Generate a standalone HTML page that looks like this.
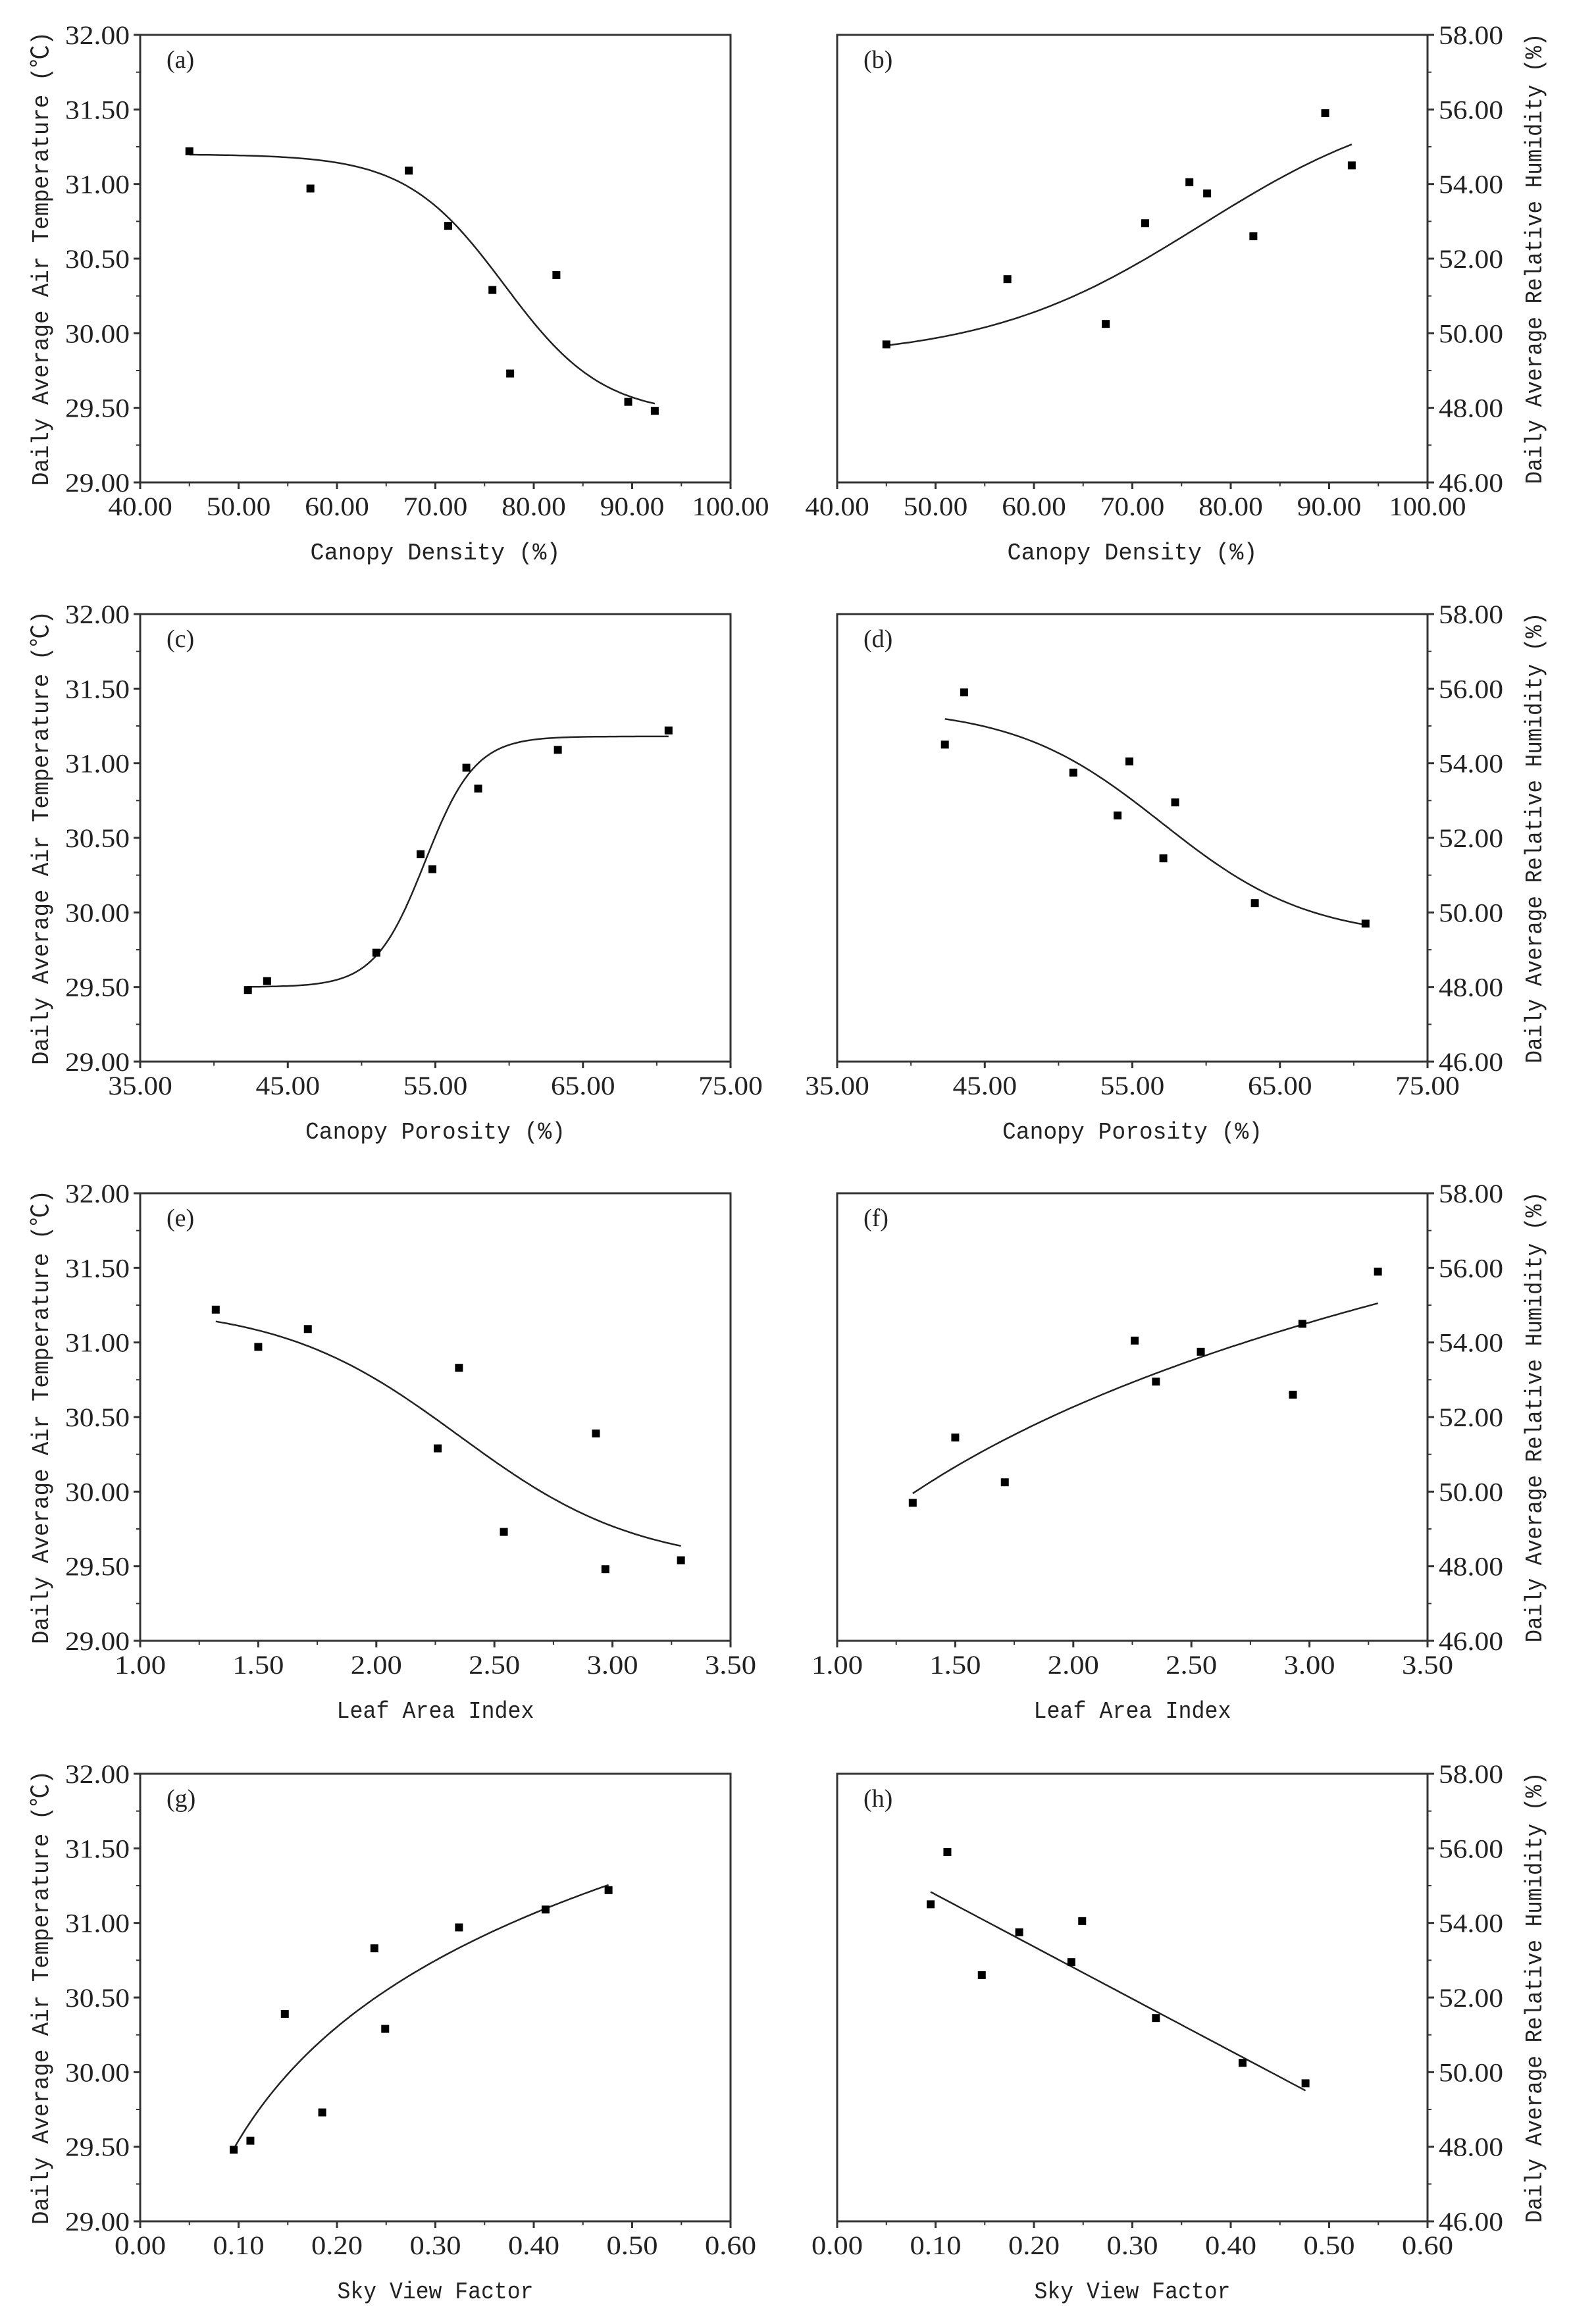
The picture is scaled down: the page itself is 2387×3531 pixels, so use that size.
<!DOCTYPE html>
<html><head><meta charset="utf-8"><style>
html,body{margin:0;padding:0;background:#fff;}
svg{display:block;}
text{fill:#222;}
</style></head>
<body>
<svg id="fig" width="2387" height="3531" viewBox="0 0 2387 3531" xmlns="http://www.w3.org/2000/svg">
<rect width="2387" height="3531" fill="#fff"/>
</svg>
<script>
// ---- data ----
const canopyDensity = [45.0, 57.3, 67.3, 71.3, 75.8, 77.6, 82.3, 89.6, 92.3];
const tempByDensity = [31.22, 30.97, 31.09, 30.72, 30.29, 29.73, 30.39, 29.54, 29.48];
const rhByDensity = [49.7, 51.45, 50.25, 52.95, 54.05, 53.75, 52.6, 55.9, 54.5];
const canopyPorosity = [42.3, 43.6, 51.0, 54.0, 54.8, 57.1, 57.9, 63.3, 70.8];
const tempByPorosity = [29.48, 29.54, 29.73, 30.39, 30.29, 30.97, 30.83, 31.09, 31.22];
const rhByPorosity = [54.5, 55.9, 53.75, 52.6, 54.05, 51.45, 52.95, 50.25, 49.7];
const leafAreaIndex = [1.32, 1.50, 1.71, 2.26, 2.35, 2.54, 2.93, 2.97, 3.29];
const tempByLai = [31.22, 30.97, 31.09, 30.29, 30.83, 29.73, 30.39, 29.48, 29.54];
const rhByLai = [49.7, 51.45, 50.25, 54.05, 52.95, 53.75, 52.6, 54.5, 55.9];
const skyViewFactor = [0.095, 0.112, 0.147, 0.185, 0.238, 0.249, 0.324, 0.412, 0.476];
const tempBySvf = [29.48, 29.54, 30.39, 29.73, 30.83, 30.29, 30.97, 31.09, 31.22];
const rhBySvf = [54.5, 55.9, 52.6, 53.75, 52.95, 54.05, 51.45, 50.25, 49.7];
// fit parameters
const fitA = [31.2, 29.45, 77, 5];       // Boltzmann A1,A2,x0,dx
const fitB = [49.3, 56.5, 77, 11];
const fitC = [29.5, 31.18, 54.3, 1.7];
const fitD = [55.5, 49.3, 57, 5];
const fitE = [31.25, 29.5, 2.35, 0.38];
const fitF = [48.40, 5.585];             // a + b ln x
const fitG = [32.07, 1.098];
const fitH = [56.16, -13.98];            // a + b x
const tempTicks = ["29.00","29.50","30.00","30.50","31.00","31.50","32.00"];
const rhTicks = ["46.00","48.00","50.00","52.00","54.00","56.00","58.00"];
const densityTicks = ["40.00","50.00","60.00","70.00","80.00","90.00","100.00"];
const porosityTicks = ["35.00","45.00","55.00","65.00","75.00"];
const laiTicks = ["1.00","1.50","2.00","2.50","3.00","3.50"];
const svfTicks = ["0.00","0.10","0.20","0.30","0.40","0.50","0.60"];

const NS = "http://www.w3.org/2000/svg";
const svg = document.getElementById('fig');
function mk(tag, attrs, parent, txt){
  const e = document.createElementNS(NS, tag);
  for (const k in attrs) e.setAttribute(k, attrs[k]);
  if (txt !== undefined) e.textContent = txt;
  (parent || svg).appendChild(e);
  return e;
}
const boltz = p => x => p[1] + (p[0]-p[1])/(1+Math.exp((x-p[2])/p[3]));
const logf = p => x => p[0] + p[1]*Math.log(x);
const linf = p => x => p[0] + p[1]*x;

const panels = [
 {id:'a', col:0, row:0, xs:canopyDensity, ys:tempByDensity, xt:densityTicks, yt:tempTicks, f:boltz(fitA), xl:'Canopy Density (%)', tl:380},
 {id:'b', col:1, row:0, xs:canopyDensity, ys:rhByDensity, xt:densityTicks, yt:rhTicks, f:boltz(fitB), xl:'Canopy Density (%)', tl:380},
 {id:'c', col:0, row:1, xs:canopyPorosity, ys:tempByPorosity, xt:porosityTicks, yt:tempTicks, f:boltz(fitC), xl:'Canopy Porosity (%)', tl:395},
 {id:'d', col:1, row:1, xs:canopyPorosity, ys:rhByPorosity, xt:porosityTicks, yt:rhTicks, f:boltz(fitD), xl:'Canopy Porosity (%)', tl:395},
 {id:'e', col:0, row:2, xs:leafAreaIndex, ys:tempByLai, xt:laiTicks, yt:tempTicks, f:boltz(fitE), xl:'Leaf Area Index', tl:300},
 {id:'f', col:1, row:2, xs:leafAreaIndex, ys:rhByLai, xt:laiTicks, yt:rhTicks, f:logf(fitF), xl:'Leaf Area Index', tl:300},
 {id:'g', col:0, row:3, xs:skyViewFactor, ys:tempBySvf, xt:svfTicks, yt:tempTicks, f:logf(fitG), xl:'Sky View Factor', tl:298},
 {id:'h', col:1, row:3, xs:skyViewFactor, ys:rhBySvf, xt:svfTicks, yt:rhTicks, f:linf(fitH), xl:'Sky View Factor', tl:298},
];
const lefts = [213, 1272];
const tops = [53, 933, 1813, 2695];
const W = 897, H = 680;

panels.forEach(p => {
  const L = lefts[p.col], T = tops[p.row], R = L+W, B = T+H;
  const g = mk('g', {});
  
  
  const xmin = +p.xt[0], xmax = +p.xt[p.xt.length-1];
  const ymin = +p.yt[0], ymax = +p.yt[p.yt.length-1];
  const sx = v => L + (v - xmin)/(xmax - xmin)*W;
  const sy = v => B - (v - ymin)/(ymax - ymin)*H;
  // frame
  const fr = mk('rect', {x:L, y:T, width:W, height:H, fill:'none', stroke:'#333', 'stroke-width':3}, g);
  
  
  // x ticks
  const nx = p.xt.length;
  for (let i=0;i<nx;i++){
    const v = +p.xt[i], x = sx(v);
    mk('line', {x1:x, y1:B, x2:x, y2:B+10, stroke:'#333', 'stroke-width':3}, g);
    if (i < nx-1){
      const xm = sx((v + +p.xt[i+1])/2);
      mk('line', {x1:xm, y1:B, x2:xm, y2:B+6, stroke:'#333', 'stroke-width':2}, g);
    }
    const t = mk('text', {x:x, y:B+50, 'text-anchor':'middle', 'font-family':'"Liberation Serif", serif', 'font-size':40, textLength: p.xt[i].length*19.5, lengthAdjust:'spacingAndGlyphs'}, g, p.xt[i]);
    
    
  }
  // y ticks
  const ny = p.yt.length;
  const AX = p.col === 0 ? L : R, dir = p.col === 0 ? -1 : 1;
  for (let i=0;i<ny;i++){
    const v = +p.yt[i], y = sy(v);
    mk('line', {x1:AX, y1:y, x2:AX+dir*10, y2:y, stroke:'#333', 'stroke-width':3}, g);
    if (i < ny-1){
      const ym = sy((v + +p.yt[i+1])/2);
      mk('line', {x1:AX, y1:ym, x2:AX+dir*6, y2:ym, stroke:'#333', 'stroke-width':2}, g);
    }
    const t = mk('text', {x: p.col===0 ? L-16 : R+17, y:y+14, 'text-anchor': p.col===0 ? 'end':'start', 'font-family':'"Liberation Serif", serif', 'font-size':40, textLength: 98, lengthAdjust:'spacingAndGlyphs'}, g, p.yt[i]);
    
    
  }
  // panel label
  const pl = mk('text', {x:L+40, y:T+50, 'font-family':'"Liberation Serif", serif', 'font-size':38, fill:'#333'}, g, '(' + p.id + ')');
  
  
  // x title
  const xt = mk('text', {x:L+W/2, y:B+117, 'text-anchor':'middle', 'font-family':'"Liberation Mono", monospace', 'font-size':36, textLength:p.tl, lengthAdjust:'spacingAndGlyphs'}, g, p.xl);
  
  
  // y title
  const cy = T + H/2;
  if (p.col === 0){
    const yt = mk('text', {x:0, y:0, transform:`translate(73 ${cy}) rotate(-90)`, 'text-anchor':'middle', 'font-family':'"Liberation Mono","Noto Sans CJK SC", monospace', 'font-size':36, textLength:690, lengthAdjust:'spacingAndGlyphs'}, g, 'Daily Average Air Temperature (℃)');
    
    
  } else {
    const yt = mk('text', {x:0, y:0, transform:`translate(2342 ${cy}) rotate(-90)`, 'text-anchor':'middle', 'font-family':'"Liberation Mono", monospace', 'font-size':36, textLength:685, lengthAdjust:'spacingAndGlyphs'}, g, 'Daily Average Relative Humidity (%)');
    
    
  }
  // fit curve
  const x0 = Math.min(...p.xs), x1 = Math.max(...p.xs);
  let d = '';
  for (let k=0;k<=120;k++){
    const xv = x0 + (x1-x0)*k/120;
    d += (k? 'L':'M') + sx(xv).toFixed(1) + ' ' + sy(p.f(xv)).toFixed(1);
  }
  const c = mk('path', {d:d, fill:'none', stroke:'#222', 'stroke-width':2.5}, g);
  
  
  // points
  for (let i=0;i<p.xs.length;i++){
    const r = mk('rect', {x:sx(p.xs[i])-6, y:sy(p.ys[i])-6, width:12, height:12, fill:'#000'}, g);
    
    
  }
});
</script>
</body></html>
